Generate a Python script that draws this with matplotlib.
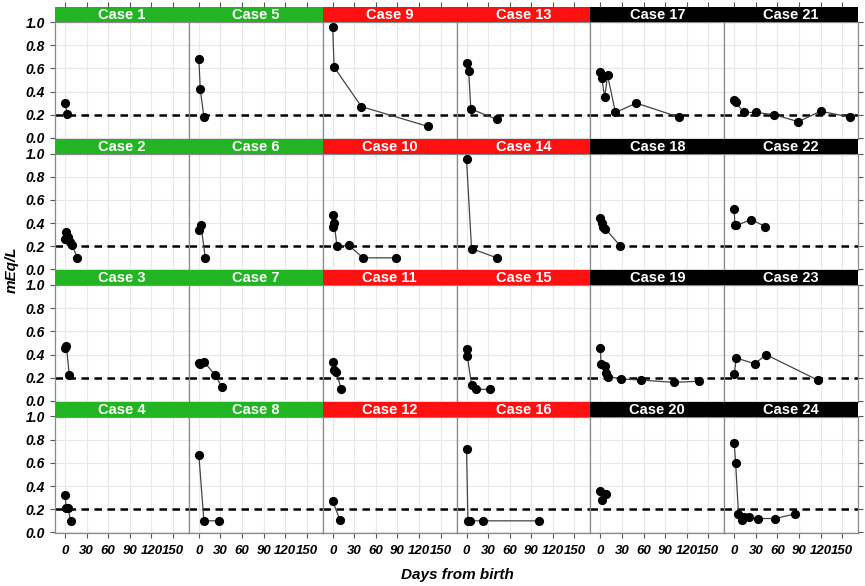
import matplotlib.pyplot as plt

plt.rcParams['font.family'] = ['Liberation Sans', 'DejaVu Sans']

# Data: days from birth and mEq/L per case
days_1 = [0, 3]
meq_1 = [0.30, 0.21]
days_2 = [0, 1, 4, 7, 10, 17]
meq_2 = [0.26, 0.32, 0.28, 0.24, 0.21, 0.10]
days_3 = [0, 2, 6]
meq_3 = [0.46, 0.47, 0.22]
days_4 = [0, 2, 4, 8]
meq_4 = [0.32, 0.21, 0.21, 0.10]
days_5 = [0, 2, 7]
meq_5 = [0.68, 0.42, 0.18]
days_6 = [0, 3, 9]
meq_6 = [0.34, 0.38, 0.10]
days_7 = [0, 2, 7, 23, 32]
meq_7 = [0.33, 0.32, 0.34, 0.22, 0.12]
days_8 = [0, 7, 28]
meq_8 = [0.67, 0.10, 0.10]
days_9 = [0, 2, 40, 132]
meq_9 = [0.96, 0.61, 0.27, 0.10]
days_10 = [0, 1, 2, 6, 22, 42, 88]
meq_10 = [0.47, 0.37, 0.40, 0.20, 0.21, 0.10, 0.10]
days_11 = [0, 2, 5, 12]
meq_11 = [0.34, 0.27, 0.25, 0.10]
days_12 = [0, 10]
meq_12 = [0.27, 0.11]
days_13 = [0, 3, 6, 42]
meq_13 = [0.65, 0.58, 0.25, 0.16]
days_14 = [0, 7, 42]
meq_14 = [0.95, 0.18, 0.10]
days_15 = [0, 1, 7, 13, 33]
meq_15 = [0.45, 0.39, 0.14, 0.10, 0.10]
days_16 = [0, 2, 5, 23, 101]
meq_16 = [0.72, 0.10, 0.10, 0.10, 0.10]
days_17 = [0, 2, 6, 10, 21, 50, 109]
meq_17 = [0.57, 0.52, 0.35, 0.54, 0.22, 0.30, 0.18]
days_18 = [0, 2, 3, 7, 28]
meq_18 = [0.44, 0.40, 0.37, 0.35, 0.20]
days_19 = [0, 1, 6, 8, 11, 29, 56, 103, 137]
meq_19 = [0.46, 0.32, 0.30, 0.24, 0.21, 0.19, 0.18, 0.16, 0.17]
days_20 = [0, 2, 8]
meq_20 = [0.36, 0.28, 0.33]
days_21 = [0, 2, 13, 30, 56, 89, 120, 161]
meq_21 = [0.33, 0.31, 0.22, 0.22, 0.20, 0.14, 0.23, 0.18]
days_22 = [0, 1, 3, 24, 43]
meq_22 = [0.52, 0.38, 0.38, 0.43, 0.37]
days_23 = [0, 3, 29, 44, 116]
meq_23 = [0.23, 0.37, 0.32, 0.40, 0.18]
days_24 = [0, 2, 6, 11, 14, 20, 33, 57, 85]
meq_24 = [0.77, 0.60, 0.16, 0.11, 0.13, 0.13, 0.12, 0.12, 0.16]

all_days = [days_1, days_2, days_3, days_4, days_5, days_6, days_7, days_8,
            days_9, days_10, days_11, days_12, days_13, days_14, days_15, days_16,
            days_17, days_18, days_19, days_20, days_21, days_22, days_23, days_24]
all_meq = [meq_1, meq_2, meq_3, meq_4, meq_5, meq_6, meq_7, meq_8,
           meq_9, meq_10, meq_11, meq_12, meq_13, meq_14, meq_15, meq_16,
           meq_17, meq_18, meq_19, meq_20, meq_21, meq_22, meq_23, meq_24]

group_colors = ['#22B422', '#22B422', '#FF1010', '#FF1010', '#000000', '#000000']
x_ticks = [0, 30, 60, 90, 120, 150]
y_ticks = [0.0, 0.2, 0.4, 0.6, 0.8, 1.0]
threshold = 0.2

W, H = 865, 586
fig = plt.figure(figsize=(W / 100, H / 100), dpi=100)

left_px, right_px = 55, 858
col_w = (right_px - left_px) / 6
top_px, row_h, strip_h = 7, 131.5, 15
xlim = (-13.9, 172)
frame_col = '#8a8a8a'

for col in range(6):
    for row in range(4):
        idx = col * 4 + row
        x0 = left_px + col * col_w
        strip_top = top_px + row * row_h
        plot_top = strip_top + strip_h
        plot_bot = strip_top + row_h
        ax = fig.add_axes([x0 / W, 1 - plot_bot / H, col_w / W, (plot_bot - plot_top) / H])
        sx = fig.add_axes([x0 / W, 1 - plot_top / H, col_w / W, strip_h / H])

        # panel
        ax.set_xlim(*xlim)
        ax.set_ylim(-0.005, 1.0)
        ax.set_xticks(x_ticks)
        ax.set_yticks(y_ticks)
        ax.grid(True, color='#e8e8e8', lw=0.8)
        ax.set_axisbelow(True)
        for sp in ax.spines.values():
            sp.set_color(frame_col)
            sp.set_linewidth(0.9)
        ax.axhline(threshold, color='black', lw=1.8, linestyle=(0, (3, 2.2)), zorder=2)
        ax.plot(all_days[idx], all_meq[idx], color='#444444', lw=0.9, zorder=3,
                marker='o', markersize=5.6, markerfacecolor='black',
                markeredgecolor='black')

        ax.tick_params(axis='both', direction='out', length=3.5, width=0.8,
                       color='#555555')
        ax.tick_params(axis='y', labelsize=10)
        ax.tick_params(axis='x', labelsize=9.5, pad=5)
        ax.tick_params(left=(col == 0), labelleft=(col == 0),
                       right=(col == 5), labelright=False,
                       bottom=(row == 3), labelbottom=(row == 3), top=False)
        if col == 0:
            ax.set_yticklabels([f'{v:.1f}' for v in y_ticks])
        for lab in ax.get_xticklabels() + ax.get_yticklabels():
            lab.set_fontweight('bold')
            lab.set_fontstyle('italic')

        # strip
        sx.set_xlim(*xlim)
        sx.set_facecolor(group_colors[col])
        sx.set_yticks([])
        sx.set_xticks(x_ticks if row == 0 else [])
        sx.tick_params(axis='x', bottom=False, labelbottom=False,
                       top=(row == 0), labeltop=False, direction='out',
                       length=3.5, width=0.8, color='#555555')
        for sp in sx.spines.values():
            sp.set_visible(False)
        sx.text(0.5, 0.45, f'Case {idx + 1}', transform=sx.transAxes,
                ha='center', va='center', color='white', fontsize=10.5,
                fontweight='bold')

fig.text(12 / W, 1 - 270 / H, 'mEq/L', rotation=90, ha='center', va='center',
         fontsize=11, fontweight='bold', fontstyle='italic')
fig.text(457 / W, 1 - 575 / H, 'Days from birth', ha='center', va='center',
         fontsize=11, fontweight='bold', fontstyle='italic')

fig.savefig('out.png', dpi=100)
